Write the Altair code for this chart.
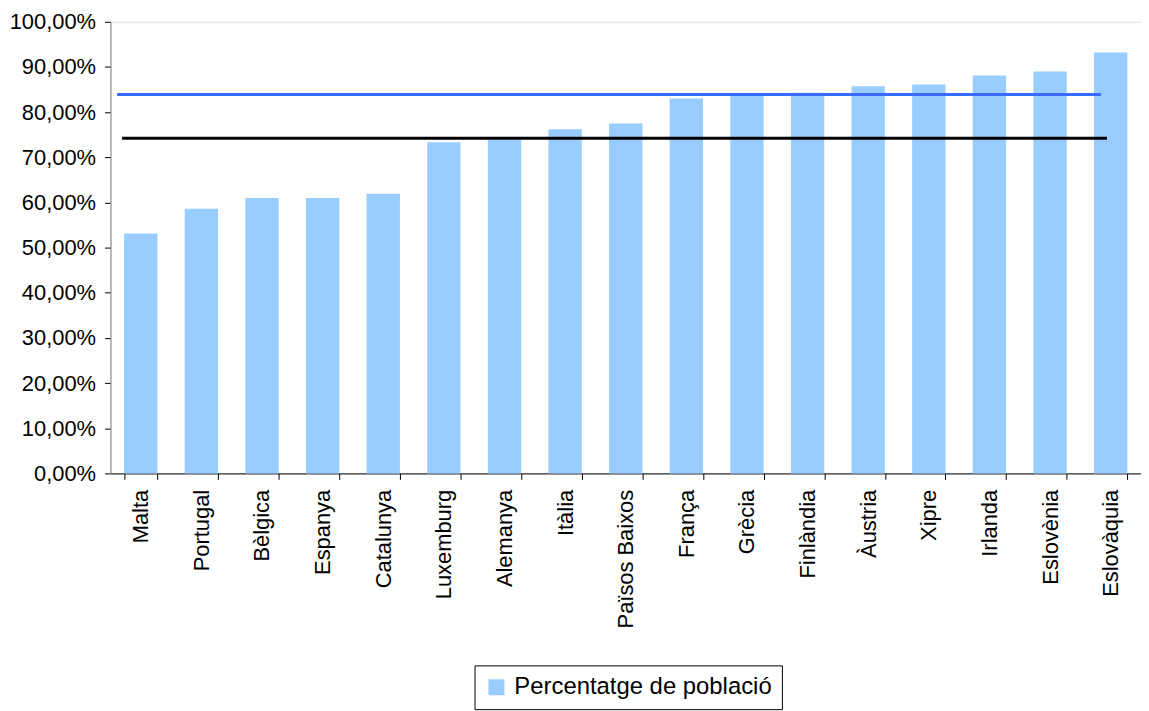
import altair as alt
import pandas as pd

countries = ["Malta", "Portugal", "Bèlgica", "Espanya", "Catalunya", "Luxemburg",
             "Alemanya", "Itàlia", "Països Baixos", "França", "Grècia", "Finlàndia",
             "Àustria", "Xipre", "Irlanda", "Eslovènia", "Eslovàquia"]
values = [0.531, 0.586, 0.610, 0.610, 0.619, 0.733, 0.740, 0.762, 0.775, 0.830,
          0.839, 0.843, 0.857, 0.861, 0.881, 0.890, 0.932]
series_name = "Percentatge de població"
blue_line_value = 0.839
black_line_value = 0.742

FONT = "Liberation Sans"
FS = 22

df = pd.DataFrame({"pais": countries, "valor": values, "serie": [series_name] * len(countries)})
blue_df = pd.DataFrame({"start": [countries[0]], "end": [countries[-1]], "v": [blue_line_value]})
black_df = pd.DataFrame({"start": [countries[0]], "end": [countries[-1]], "v": [black_line_value]})

xscale = alt.Scale(domain=countries, paddingInner=0.45, paddingOuter=0.225)
yscale = alt.Scale(domain=[0, 1])

bars = alt.Chart(df).mark_bar(color="#99CCFF").encode(
    x=alt.X("pais:N", scale=xscale, sort=countries, title=None,
            axis=alt.Axis(labelAngle=-90, labelAlign="right", labelBaseline="middle",
                          labelFontSize=FS, labelFont=FONT, labelColor="#000000",
                          tickBand="extent", tickSize=6, tickColor="#000000",
                          domainColor="#000000", labelPadding=10)),
    y=alt.Y("valor:Q", scale=yscale, title=None,
            axis=alt.Axis(values=[i / 10 for i in range(11)],
                          labelExpr="replace(format(datum.value, '.2%'), '.', ',')",
                          labelFontSize=FS, labelFont=FONT, labelColor="#000000",
                          tickSize=6, tickColor="#000000", domainColor="#808080",
                          grid=False, labelPadding=9)),
    color=alt.Color("serie:N", scale=alt.Scale(range=["#99CCFF"]),
                    legend=alt.Legend(title=None, orient="none", legendX=366, legendY=647,
                                      direction="horizontal", symbolType="square",
                                      symbolSize=256, symbolStrokeWidth=0,
                                      labelFontSize=24, labelFont=FONT, labelColor="#000000",
                                      labelLimit=0, strokeColor="#000000", padding=10,
                                      labelOffset=6)),
)

blue = alt.Chart(blue_df).mark_rule(color="#3A6BFF", strokeWidth=3, xOffset=-7, x2Offset=7).encode(
    x=alt.X("start:N", scale=xscale, bandPosition=0),
    x2=alt.X2("end:N", bandPosition=0),
    y=alt.Y("v:Q", scale=yscale),
)

black = alt.Chart(black_df).mark_rule(color="#000000", strokeWidth=3, xOffset=-2, x2Offset=13).encode(
    x=alt.X("start:N", scale=xscale, bandPosition=0),
    x2=alt.X2("end:N", bandPosition=0),
    y=alt.Y("v:Q", scale=yscale),
)

chart = alt.layer(bars, blue, black).properties(
    width=1036, height=454,
    padding={"left": 1, "top": 1, "right": 0, "bottom": 0},
).configure_view(stroke=None).configure(background="white")

chart.save("out.html", embed_options={"renderer": "svg", "actions": False})
